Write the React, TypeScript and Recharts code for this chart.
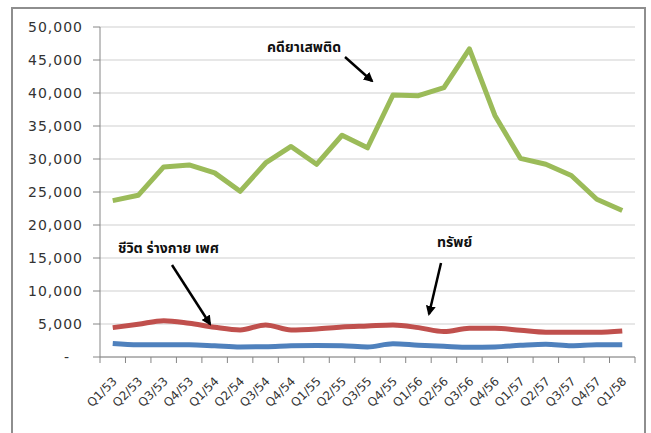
import { LineChart, Line, XAxis, YAxis, CartesianGrid } from 'recharts';

const quarters = [
  'Q1/53', 'Q2/53', 'Q3/53', 'Q4/53',
  'Q1/54', 'Q2/54', 'Q3/54', 'Q4/54',
  'Q1/55', 'Q2/55', 'Q3/55', 'Q4/55',
  'Q1/56', 'Q2/56', 'Q3/56', 'Q4/56',
  'Q1/57', 'Q2/57', 'Q3/57', 'Q4/57',
  'Q1/58',
];

// คดียาเสพติด
const drugCases = [
  23700, 24500, 28800, 29100, 27900, 25100, 29400, 31900, 29200, 33600, 31700,
  39700, 39600, 40800, 46700, 36600, 30100, 29200, 27500, 23900, 22200,
];

// ทรัพย์
const propertyCases = [
  4450, 4950, 5500, 5100, 4500, 4100, 4850, 4100, 4250, 4550, 4700,
  4850, 4450, 3850, 4350, 4350, 4050, 3750, 3750, 3750, 3950,
];

// ชีวิต ร่างกาย เพศ
const lifeCases = [
  2050, 1850, 1850, 1850, 1700, 1520, 1550, 1700, 1750, 1700, 1520,
  2000, 1780, 1620, 1480, 1520, 1770, 1950, 1720, 1870, 1870,
];

const yTicks = [0, 5000, 10000, 15000, 20000, 25000, 30000, 35000, 40000, 45000, 50000];

const data = quarters.map((q, i) => ({
  quarter: q,
  drug: drugCases[i],
  property: propertyCases[i],
  life: lifeCases[i],
}));

const AXIS = '#868686';
const TEXT = '#333';
const PLOT_W = 535;
const BAND = PLOT_W / quarters.length;

// labels sit between the tick marks, like Excel's category axis
const QuarterTick = ({ x, y, payload, index }: any) => {
  const tx = x + 5;
  const ty = y + 25;
  return (
    <g>
      <line x1={x - BAND / 2} y1={y} x2={x - BAND / 2} y2={y + 6} stroke={AXIS} />
      {index === quarters.length - 1 && (
        <line x1={x + BAND / 2} y1={y} x2={x + BAND / 2} y2={y + 6} stroke={AXIS} />
      )}
      <text
        x={tx}
        y={ty}
        transform={`rotate(-45 ${tx} ${ty})`}
        textAnchor="end"
        fontSize={12}
        fontFamily="'DejaVu Sans', sans-serif"
        fill={TEXT}
      >
        {payload.value}
      </text>
    </g>
  );
};

const ValueTick = ({ x, y, payload }: any) => {
  const v = payload.value as number;
  return (
    <text
      x={v === 0 ? x - 13 : x}
      y={y}
      dy={5}
      textAnchor="end"
      fontSize={14}
      letterSpacing={1}
      fontFamily="'DejaVu Sans', sans-serif"
      fill={TEXT}
    >
      {v === 0 ? '-' : v.toLocaleString('en-US')}
    </text>
  );
};

const thaiFont = "Tahoma, 'Noto Sans Thai', 'Leelawadee UI', 'DejaVu Sans', sans-serif";

export default function App() {
  return (
    <div style={{ position: 'absolute', left: 0, top: 0, width: 651, height: 433, overflow: 'hidden', background: '#fff' }}>
      <div
        style={{
          position: 'absolute',
          left: 11,
          top: 7,
          width: 635,
          height: 440,
          border: '2px solid #8e8e8e',
          boxSizing: 'border-box',
        }}
      />
      <div style={{ position: 'absolute', left: 0, top: 0 }}>
        <LineChart
          width={651}
          height={433}
          data={data}
          margin={{ top: 27, right: 16, left: 0, bottom: 0 }}
        >
          <CartesianGrid vertical={false} stroke="#cfcfcf" />
          <XAxis
            dataKey="quarter"
            interval={0}
            height={76}
            padding={{ left: BAND / 2, right: BAND / 2 }}
            tickLine={false}
            tickSize={0}
            tickMargin={0}
            axisLine={{ stroke: AXIS }}
            tick={<QuarterTick />}
          />
          <YAxis
            domain={[0, 50000]}
            ticks={yTicks}
            width={100}
            tickSize={7}
            tickMargin={10}
            tickLine={{ stroke: AXIS }}
            axisLine={{ stroke: AXIS }}
            tick={<ValueTick />}
          />
          <Line
            type="linear"
            dataKey="drug"
            stroke="#9bbb59"
            strokeWidth={5}
            strokeLinejoin="round"
            dot={false}
            activeDot={false}
            isAnimationActive={false}
          />
          <Line
            type="monotone"
            dataKey="property"
            stroke="#c0504d"
            strokeWidth={5}
            dot={false}
            activeDot={false}
            isAnimationActive={false}
          />
          <Line
            type="monotone"
            dataKey="life"
            stroke="#4f81bd"
            strokeWidth={5}
            dot={false}
            activeDot={false}
            isAnimationActive={false}
          />
        </LineChart>
      </div>
      <svg
        width={651}
        height={433}
        style={{ position: 'absolute', left: 0, top: 0, pointerEvents: 'none' }}
      >
        <defs>
          <marker id="head" viewBox="0 0 10 10" refX="8" refY="5" markerWidth="4" markerHeight="4" orient="auto">
            <path d="M0,0 L10,5 L0,10 z" fill="#000" />
          </marker>
        </defs>
        <text x={267} y={52} fontSize={14} fontWeight="bold" fontFamily={thaiFont} fill="#111">คดียาเสพติด</text>
        <line x1={345} y1={57} x2={372} y2={81} stroke="#000" strokeWidth={2.5} markerEnd="url(#head)" />
        <text x={118} y={253} fontSize={14} fontWeight="bold" fontFamily={thaiFont} fill="#111">ชีวิต ร่างกาย เพศ</text>
        <line x1={172} y1={265} x2={210} y2={324} stroke="#000" strokeWidth={2.5} markerEnd="url(#head)" />
        <text x={437} y={247} fontSize={14} fontWeight="bold" fontFamily={thaiFont} fill="#111">ทรัพย์</text>
        <line x1={441} y1={263} x2={429} y2={314} stroke="#000" strokeWidth={2.5} markerEnd="url(#head)" />
      </svg>
    </div>
  );
}
